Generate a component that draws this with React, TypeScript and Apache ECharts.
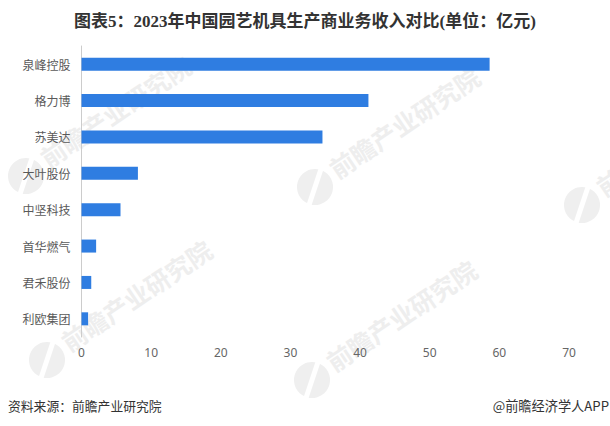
import React, { useEffect, useRef } from 'react';
import * as echarts from 'echarts';

const categories = ['泉峰控股', '格力博', '苏美达', '大叶股份', '中坚科技', '首华燃气', '君禾股份', '利欧集团'];
const revenue = [58.6, 41.2, 34.6, 8.1, 5.6, 2.1, 1.4, 0.95];

const titleText = '图表5：2023年中国园艺机具生产商业务收入对比(单位：亿元)';
const sourceText = '资料来源：前瞻产业研究院';
const brandText = '@前瞻经济学人APP';
const watermarkText = '前瞻产业研究院';

// 水印的位置：[logo x, logo y]
const watermarks = [
  [26, 176],
  [315, 187],
  [582, 205],
  [47, 360],
  [312, 380],
];

const watermark = (x: number, y: number) => ({
  type: 'group',
  x,
  y,
  silent: true,
  children: [
    { type: 'circle', shape: { cx: 0, cy: 0, r: 18 }, style: { fill: '#efefef' } },
    { type: 'line', shape: { x1: -6, y1: 18, x2: 6, y2: -18 }, style: { stroke: '#fff', lineWidth: 5 } },
    {
      type: 'text',
      x: 89,
      y: -65,
      rotation: (34 * Math.PI) / 180,
      style: {
        text: watermarkText,
        font: 'bold 25px "Noto Sans CJK SC"',
        fill: '#eeeeee',
        align: 'center',
        verticalAlign: 'middle',
      },
    },
  ],
});

const App: React.FC = () => {
  const chartRef = useRef<HTMLDivElement>(null);

  useEffect(() => {
    if (!chartRef.current) return;
    const chart = echarts.init(chartRef.current, null, { renderer: 'svg' });

    chart.setOption({
      animation: false,
      backgroundColor: '#fff',
      title: {
        text: titleText,
        left: 'center',
        top: 8,
        textStyle: {
          fontFamily: '"Liberation Serif", "Noto Sans CJK SC"',
          fontSize: 17,
          fontWeight: 'bold',
          color: '#333',
        },
      },
      grid: { left: 81.5, top: 46, width: 487.5, height: 291 },
      xAxis: {
        type: 'value',
        min: 0,
        max: 70,
        interval: 10,
        splitLine: { show: false },
        axisLine: { show: false },
        axisTick: { show: false },
        axisLabel: { color: '#666', fontSize: 12, margin: 9, fontFamily: '"Noto Sans", sans-serif' },
      },
      yAxis: {
        type: 'category',
        inverse: true,
        data: categories,
        axisLine: { lineStyle: { color: '#ccc' } },
        axisTick: { show: false },
        axisLabel: { color: '#595959', fontSize: 12, margin: 11, fontFamily: '"Noto Sans CJK SC"' },
      },
      series: [
        {
          type: 'bar',
          data: revenue,
          barWidth: 13,
          itemStyle: { color: '#2f7de1' },
        },
      ],
      graphic: [
        ...watermarks.map(([x, y]) => watermark(x, y)),
        {
          type: 'text',
          x: 8,
          y: 405,
          style: {
            text: sourceText,
            font: '12.8px "Noto Sans CJK SC"',
            fill: '#333',
            verticalAlign: 'middle',
          },
        },
        {
          type: 'text',
          x: 609,
          y: 405,
          style: {
            text: brandText,
            font: '13.2px "Noto Sans CJK SC"',
            fill: '#333',
            align: 'right',
            verticalAlign: 'middle',
          },
        },
      ],
    });

    return () => {
      chart.dispose();
    };
  }, []);

  return <div ref={chartRef} style={{ position: 'fixed', left: 0, top: 0, width: 610, height: 426 }} />;
};

export default App;
